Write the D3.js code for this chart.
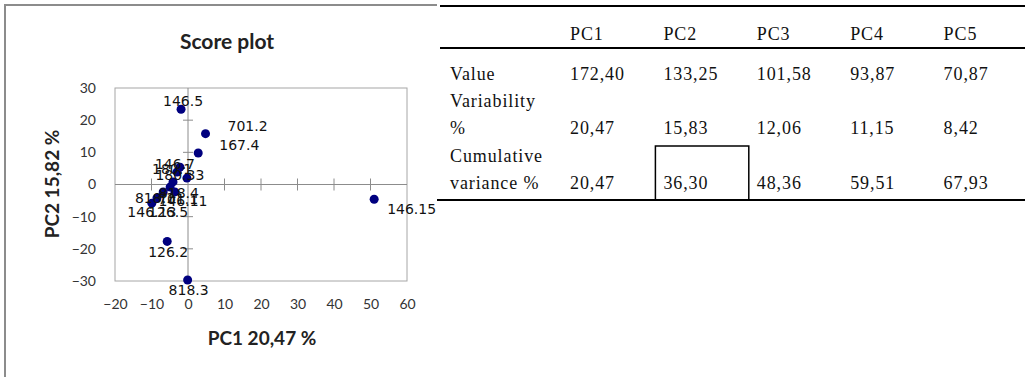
<!DOCTYPE html>
<html>
<head>
<meta charset="utf-8">
<script src="https://cdn.jsdelivr.net/npm/d3@7"></script>
<style>
  body { margin: 0; background: #fff; }
  svg { display: block; }
</style>
</head>
<body>
<svg id="page" width="1025" height="377"></svg>
<script>
// score plot points (PC1, PC2) and their labels
var pointLabels = ['146.5', '701.2', '167.4', '146.7', '180.1', '180.33', '146.11', '701.1',
  '818.4', '126.5', '818.1', '146.13', '146.15', '126.2', '818.3'];
var pc1Scores = [-1.9, 4.8, 2.8, -2.2, -3.0, -0.3, -4.1, -4.9, -3.6, -6.8, -8.5, -9.9, 51.0, -5.7, -0.1];
var pc2Scores = [23.4, 15.8, 9.8, 5.4, 3.9, 2.0, 0.8, -0.8, -2.3, -2.3, -4.2, -5.8, -4.6, -17.7, -29.7];

var xTicks = [-20, -10, 0, 10, 20, 30, 40, 50, 60];
var yTicks = [-30, -20, -10, 0, 10, 20, 30];

// eigenvalue table
var components = ['PC1', 'PC2', 'PC3', 'PC4', 'PC5'];
var rowNames = [['Value'], ['Variability', '%'], ['Cumulative', 'variance %']];
var eigenValues = [172.40, 133.25, 101.58, 93.87, 70.87];
var variability = [20.47, 15.83, 12.06, 11.15, 8.42];
var cumulative = [20.47, 36.30, 48.36, 59.51, 67.93];

var svg = d3.select('#page');
var fmt = function(v) { return d3.format('.2f')(v).replace('.', ','); };

// ---- score plot ----
var x = d3.scaleLinear().domain([-20, 60]).range([115, 407]);
var y = d3.scaleLinear().domain([-30, 30]).range([281, 88]);
var grey = '#8c8c8c';

// outer chart frame (right side is hidden under the table)
svg.append('line').attr('x1', 5).attr('x2', 440).attr('y1', 5).attr('y2', 5)
  .attr('stroke', grey).attr('stroke-width', 2);
svg.append('line').attr('x1', 5).attr('x2', 5).attr('y1', 4).attr('y2', 377)
  .attr('stroke', grey).attr('stroke-width', 2);

svg.append('text').attr('x', 227).attr('y', 49).attr('text-anchor', 'middle')
  .attr('font-family', 'Lato').attr('font-weight', 'bold').attr('font-size', 21)
  .attr('fill', '#222').text('Score plot');

svg.append('rect').attr('x', x(-20)).attr('y', y(30))
  .attr('width', x(60) - x(-20)).attr('height', y(-30) - y(30))
  .attr('fill', 'none').attr('stroke', '#a6a6a6');

var xAxis = svg.append('g').attr('transform', 'translate(0,' + y(-30) + ')')
  .call(d3.axisBottom(x).tickValues(xTicks).tickSize(0).tickPadding(18));
var yAxis = svg.append('g').attr('transform', 'translate(' + x(-20) + ',0)')
  .call(d3.axisLeft(y).tickValues(yTicks).tickSize(0).tickPadding(19));
[xAxis, yAxis].forEach(function(g) {
  g.select('.domain').remove();
  g.selectAll('text').attr('font-family', 'Lato').attr('font-size', 14).attr('fill', '#333');
});

// central axes with crossing tick marks
svg.append('line').attr('x1', x(-20)).attr('x2', x(60)).attr('y1', y(0)).attr('y2', y(0)).attr('stroke', grey);
svg.append('line').attr('x1', x(0)).attr('x2', x(0)).attr('y1', y(30)).attr('y2', y(-30)).attr('stroke', grey);
svg.selectAll('.xmark').data(xTicks.filter(function(d) { return d > -20 && d < 60 && d !== 0; }))
  .enter().append('line').attr('stroke', grey)
  .attr('x1', function(d) { return x(d); }).attr('x2', function(d) { return x(d); })
  .attr('y1', y(0) - 6).attr('y2', y(0) + 6);
svg.selectAll('.ymark').data(yTicks.filter(function(d) { return d > -30 && d < 30 && d !== 0; }))
  .enter().append('line').attr('stroke', grey)
  .attr('x1', x(0) - 5).attr('x2', x(0) + 5)
  .attr('y1', function(d) { return y(d); }).attr('y2', function(d) { return y(d); });

svg.append('text').attr('x', 262).attr('y', 345).attr('text-anchor', 'middle')
  .attr('font-family', 'Lato').attr('font-weight', 'bold').attr('font-size', 19)
  .attr('fill', '#222').text('PC1 20,47 %');
svg.append('text').attr('transform', 'translate(59,184) rotate(-90)').attr('text-anchor', 'middle')
  .attr('font-family', 'Lato').attr('font-weight', 'bold').attr('font-size', 19)
  .attr('fill', '#222').text('PC2 15,82 %');

var points = pointLabels.map(function(l, i) { return {label: l, px: pc1Scores[i], py: pc2Scores[i]}; });

svg.selectAll('.dot').data(points).enter().append('circle')
  .attr('cx', function(d) { return x(d.px); })
  .attr('cy', function(d) { return y(d.py); })
  .attr('r', 4.5).attr('fill', '#00007f');

// where each label sits relative to its dot (dx, baseline dy, anchor)
var labelPlacement = {
  '146.5': [2, -3, 'middle'], '701.2': [22, -3, 'start'], '167.4': [21, -3, 'start'],
  '146.7': [-5, 2, 'middle'], '180.1': [-5, 2, 'middle'], '180.33': [-7, 2, 'middle'],
  '818.4': [4, 6, 'middle'], '146.11': [10, 24, 'middle'], '701.1': [8, 17, 'middle'],
  '126.5': [5, 25, 'middle'], '818.1': [-2, 5, 'middle'], '146.13': [0, 14, 'middle'],
  '146.15': [13, 15, 'start'], '126.2': [1, 16, 'middle'], '818.3': [1, 15, 'middle']
};
svg.selectAll('.lbl').data(points).enter().append('text')
  .attr('x', function(d) { return x(d.px) + labelPlacement[d.label][0]; })
  .attr('y', function(d) { return y(d.py) + labelPlacement[d.label][1]; })
  .attr('text-anchor', function(d) { return labelPlacement[d.label][2]; })
  .attr('font-family', 'DejaVu Sans').attr('font-size', 14).attr('fill', '#111')
  .text(function(d) { return d.label; });

// ---- table (covers the right part of the chart) ----
svg.append('rect').attr('x', 437).attr('y', 0).attr('width', 588).attr('height', 201).attr('fill', '#fff');

var col = d3.scaleBand().domain(components).range([565, 1032]);
var serif = 'Liberation Serif';
var rowBase = [80, 134, 189];

svg.append('line').attr('x1', 440).attr('x2', 1025).attr('y1', 6).attr('y2', 6).attr('stroke', '#000').attr('stroke-width', 2);
svg.append('line').attr('x1', 440).attr('x2', 1025).attr('y1', 48).attr('y2', 48).attr('stroke', '#000').attr('stroke-width', 2);
svg.append('line').attr('x1', 437).attr('x2', 1025).attr('y1', 200).attr('y2', 200).attr('stroke', '#000').attr('stroke-width', 2);

var cellText = function(sel) {
  sel.attr('font-family', serif).attr('font-size', 18).attr('letter-spacing', 0.9).attr('fill', '#111');
};

svg.selectAll('.hdr').data(components).enter().append('text')
  .attr('x', function(d) { return col(d) + 5; }).attr('y', 40)
  .call(cellText).text(function(d) { return d; });

rowNames.forEach(function(lines, r) {
  lines.forEach(function(t, k) {
    svg.append('text').attr('x', 450).attr('y', rowBase[r] - (lines.length - 1 - k) * 27)
      .call(cellText).text(t);
  });
});

[eigenValues, variability, cumulative].forEach(function(vals, r) {
  svg.selectAll('.row' + r).data(vals).enter().append('text')
    .attr('x', function(d, i) { return col(components[i]) + 5; })
    .attr('y', rowBase[r])
    .call(cellText)
    .text(function(d) { return fmt(d); });
});

// highlighted cell
svg.append('rect').attr('x', col('PC2') - 3).attr('y', 146)
  .attr('width', col.bandwidth()).attr('height', 54)
  .attr('fill', 'none').attr('stroke', '#000').attr('stroke-width', 1.5);
</script>
</body>
</html>
